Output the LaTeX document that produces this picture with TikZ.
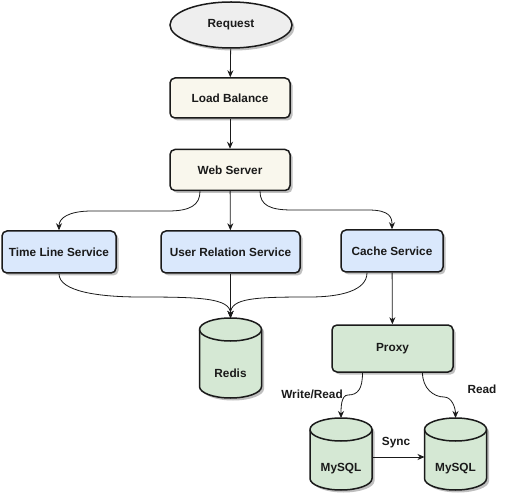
\documentclass[tikz,border=0pt]{standalone}
\usepackage{fontspec}
\setmainfont{Liberation Sans}
\usetikzlibrary{arrows.meta,shadows,shapes.geometric}
\definecolor{reqfill}{HTML}{EEEEEE}
\definecolor{lbfill}{HTML}{F9F7ED}
\definecolor{svcfill}{HTML}{DAE8FC}
\definecolor{dbfill}{HTML}{D5E8D4}
\definecolor{ink}{HTML}{1A1A1A}
\newcommand\dbcyl[6]{% name, x, y, height, text-node name, text
  \node[minimum width=62pt, minimum height=#4, inner sep=0pt, outer sep=0pt] (#1) at (#2,#3) {};
  \path[dbshape] ([yshift=-11.5pt]#1.north west) -- ([yshift=11.5pt]#1.south west)
    arc[start angle=180, end angle=360, x radius=31pt, y radius=11.5pt]
    -- ([yshift=-11.5pt]#1.north east)
    arc[start angle=0, end angle=180, x radius=31pt, y radius=11.5pt] -- cycle;
  \draw[line width=1.5pt, draw=ink] ([yshift=-11.5pt]#1.north west)
    arc[start angle=180, end angle=360, x radius=31pt, y radius=11.5pt];
  \node[txt] (#5) at ([yshift=-15pt]#1.center) {#6};
}
\begin{document}
\begin{tikzpicture}[x=1pt,y=1pt,
  txt/.style={font=\bfseries\fontsize{11.8}{14}\selectfont, text=ink},
  shad/.style={drop shadow={shadow xshift=2.5pt, shadow yshift=-2.5pt, fill=black, opacity=0.25}},
  box/.style={txt, draw=ink, line width=1.5pt, rounded corners=5pt, shad, inner sep=0pt},
  dbshape/.style={draw=ink, line width=1.5pt, fill=dbfill, shad},
  edge/.style={-{Stealth[length=7pt,width=6pt]}, line width=0.8pt, draw=ink},
  lbl/.style={txt}
]
\useasboundingbox (0,0) rectangle (511,501);

\node[txt, ellipse, draw=ink, line width=1.5pt, fill=reqfill, shad,
      minimum width=122pt, minimum height=46pt, inner sep=0pt] (req) at (231,476) {Request};
\node[box, fill=lbfill, minimum width=120pt, minimum height=40pt] (lb) at (230,403) {Load Balance};
\node[box, fill=lbfill, minimum width=120pt, minimum height=41pt] (ws) at (230,331) {Web Server};
\node[box, fill=svcfill, minimum width=114pt, minimum height=42pt] (tl) at (59,249) {Time Line Service};
\node[box, fill=svcfill, minimum width=139pt, minimum height=42pt] (urs) at (230.5,249) {User Relation Service};
\node[box, fill=svcfill, minimum width=102pt, minimum height=42pt] (cache) at (392,250) {Cache Service};
\node[box, fill=dbfill, minimum width=121pt, minimum height=47pt] (proxy) at (392.5,152.5) {Proxy};

\dbcyl{redis}{230.5}{143}{80pt}{redist}{Redis}
\dbcyl{m1}{341}{47}{72pt}{m1t}{MySQL}
\dbcyl{m2}{455.5}{47}{72pt}{m2t}{MySQL}

\draw[edge] (req) -- (lb);
\draw[edge] (lb) -- (ws);
\draw[edge] (ws) -- (urs);
\draw[edge] ([xshift=-30pt]ws.south) .. controls +(0,-14) and +(22,0) .. (168,290)
  -- (92,290) .. controls +(-24,0) and +(0,12) .. (tl.north);
\draw[edge] ([xshift=30pt]ws.south) .. controls +(0,-14) and +(-22,0) .. (292,291)
  -- (368,291) .. controls +(22,0) and +(0,12) .. (cache.north);
\draw[edge] (tl.south) .. controls +(0,-18) and +(-40,0) .. (140,204)
  .. controls +(60,0) and +(0,20) .. (redis.north);
\draw[edge] (urs) -- (redis.north);
\draw[edge] ([xshift=-25pt]cache.south) .. controls +(0,-18) and +(30,0) .. (310,204)
  .. controls +(-55,0) and +(0,20) .. (redis.north);
\draw[edge] (cache) -- (proxy);
\draw[edge] ([xshift=-30pt]proxy.south) .. controls +(0,-16) and +(10,0) .. (348,106)
  .. controls +(-7,0) and +(0,10) .. (m1.north);
\draw[edge] ([xshift=30pt]proxy.south) .. controls +(0,-16) and +(-10,0) .. (444,104)
  .. controls +(8,0) and +(0,10) .. (m2.north);
\draw[edge] ([yshift=-3pt]m1.east) -- ([yshift=-3pt]m2.west);

\node[lbl] (wr) at (312,107) {Write/Read};
\node[lbl] (rd) at (482,112) {Read};
\node[lbl] (sy) at (396,58) {Sync};
\end{tikzpicture}
\end{document}
